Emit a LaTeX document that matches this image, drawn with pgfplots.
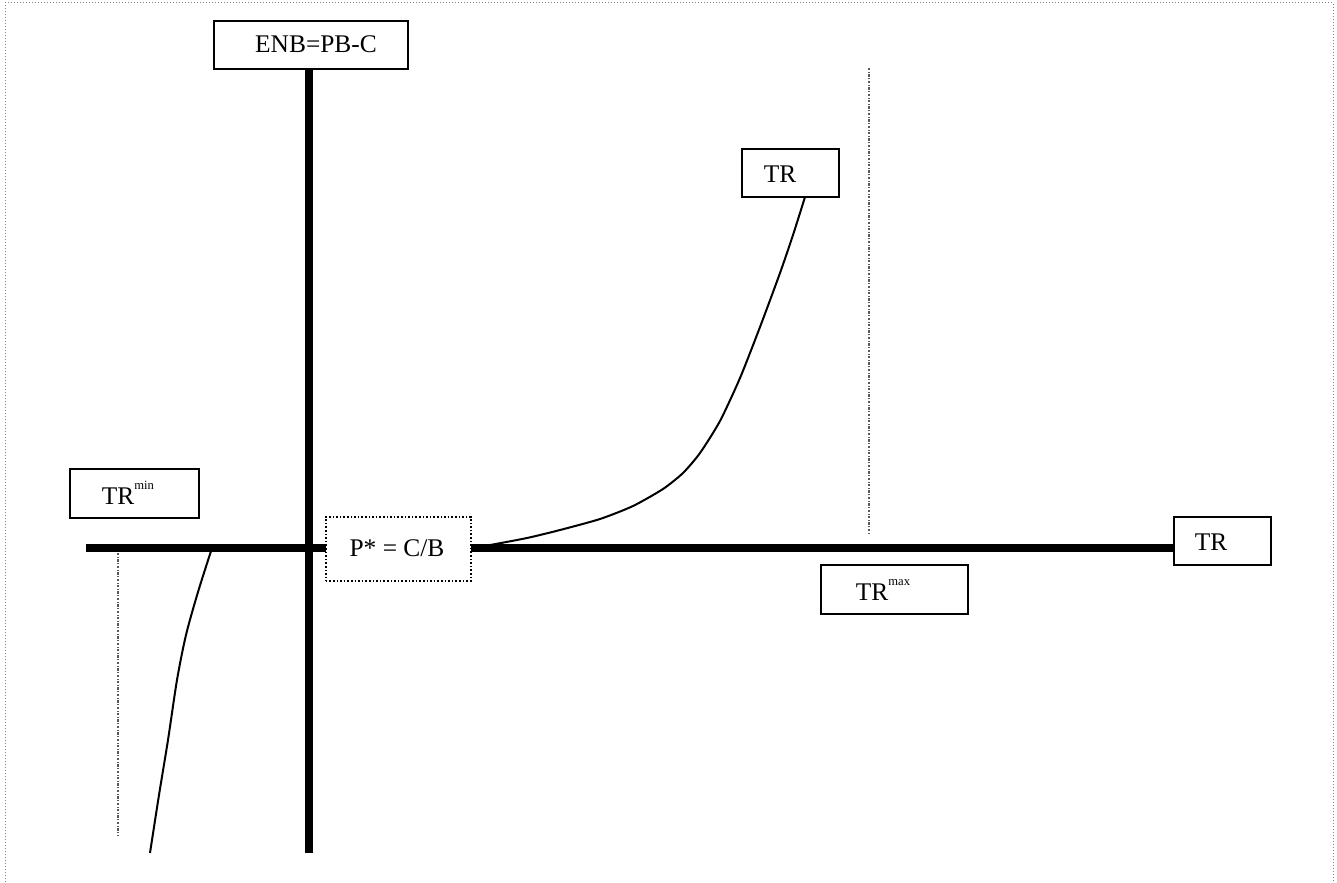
\documentclass[border=0pt]{standalone}
\usepackage{pgfplots}
\pgfplotsset{compat=1.18}
\usepackage{fontspec}
\setmainfont{Liberation Serif}

\newcommand{\supsmall}[1]{\raisebox{0.6em}{\fontsize{6.3}{6.3}\selectfont #1}}
\tikzset{
  lbl/.style={font=\fontsize{12.7}{15}\selectfont},
  box/.style={draw, line width=0.8pt, fill=white, anchor=north west, inner sep=0},
}

\begin{document}
\begin{tikzpicture}
\begin{axis}[
    width=668.5pt, height=441pt, scale only axis,
    xmin=0, xmax=1337, ymin=0, ymax=882,
    y dir=reverse, hide axis, clip=false,
]
% frame
\addplot[gray, densely dotted, line width=0.5pt] coordinates {(5,882) (5,3) (1333,3) (1333,882)};
% invisible extent
\addplot[draw=none] coordinates {(0,0) (1337,882)};

% dotted guide lines
\addplot[black!65, dash pattern=on 1.2pt off 0.8pt on 0.4pt off 0.8pt, line width=0.6pt] coordinates {(869,68) (869,533)};
\addplot[black!65, dash pattern=on 1.2pt off 0.8pt on 0.4pt off 0.8pt, line width=0.6pt] coordinates {(118,553) (118,836)};

% thick axes
\addplot[black, line width=3.6pt] coordinates {(309,66) (309,853)};
\addplot[black, line width=3.6pt] coordinates {(86,548) (1173,548)};

% curves
\addplot[black, line width=1pt, smooth, tension=0.4] coordinates {
  (470,548) (490,545) (527,538) (560,530) (600,519) (633,506) (663,489)
  (683,473) (700,453) (720,421) (740,378) (760,327) (780,273) (793,235) (805,197)};
\addplot[black, line width=1pt, smooth] coordinates {
  (212,548) (198,592) (186,635) (177,680) (168,740) (159,795) (150,853)};

% boxes
\node[box, minimum width=97pt, minimum height=24pt] at (axis cs:213,20) {};
\node[lbl] at (axis cs:316,44) {ENB=PB-C};

\node[box, minimum width=48.5pt, minimum height=24pt] at (axis cs:741,148) {};
\node[lbl] at (axis cs:780,174) {TR};

\node[box, minimum width=48.5pt, minimum height=24pt] at (axis cs:1173,516) {};
\node[lbl] at (axis cs:1211,542) {TR};

\node[box, minimum width=64.5pt, minimum height=24.5pt] at (axis cs:69,468) {};
\node[lbl] at (axis cs:128,493) {TR\supsmall{min}};

\node[box, minimum width=73.5pt, minimum height=24.5pt] at (axis cs:820,564) {};
\node[lbl] at (axis cs:883,590) {TR\supsmall{max}};

\node[box, densely dotted, minimum width=72.5pt, minimum height=32pt] at (axis cs:325,516) {};
\node[lbl] at (axis cs:397,548) {P* = C/B};
\end{axis}
\end{tikzpicture}
\end{document}
